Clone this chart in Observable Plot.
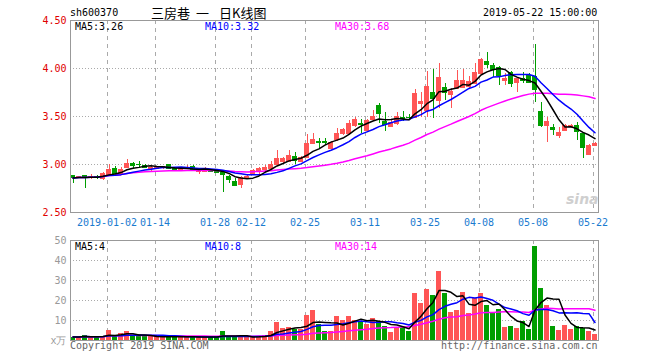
<!DOCTYPE html>
<html><head><meta charset="utf-8">
<script src="https://cdn.jsdelivr.net/npm/d3@7"></script>
<script src="https://cdn.jsdelivr.net/npm/@observablehq/plot@0.6"></script>
<style>
html,body{margin:0;padding:0;background:#fff;}
#wrap{position:relative;width:660px;height:360px;overflow:hidden;font-family:"DejaVu Sans Mono",monospace;font-size:10px;}
.t{position:absolute;white-space:nowrap;line-height:1;}
.cjk{font-family:'Noto Sans CJK SC';font-size:13px;color:#000;top:6px;}
#price,#vol{position:absolute;left:0;}
#price{top:0px} #vol{top:232px}
#wrap svg rect, #wrap svg line{shape-rendering:crispEdges;}
</style></head><body>
<div id="wrap">
 <div id="price"></div><div id="vol"></div>
 <div class="t" style="left:70px;top:8px;color:#000">sh600370</div>
 <div class="t cjk" style="left:151px">三房巷</div>
 <div class="t cjk" style="left:196px">一</div>
 <div class="t cjk" style="left:219px">日K线图</div>
 <div class="t" style="left:483px;top:8px;color:#000">2019-05-22 15:00:00</div>
 <div class="t" id="pm5" style="left:75px;top:22px;color:#000"></div>
 <div class="t" id="pm10" style="left:205px;top:22px;color:#0000ff"></div>
 <div class="t" id="pm30" style="left:335px;top:22px;color:#ff00ff"></div>
 <div class="t" id="vm5" style="left:75px;top:242px;color:#000"></div>
 <div class="t" id="vm10" style="left:205px;top:242px;color:#0000ff"></div>
 <div class="t" id="vm30" style="left:335px;top:242px;color:#ff00ff"></div>
 <div class="t" style="left:70px;top:341px;color:#666">Copyright 2019 SINA.COM</div>
 <div class="t" style="left:441px;top:341px;color:#666">http://finance.sina.com.cn</div>
 <div class="t" style="left:566px;top:192px;font-family:'DejaVu Sans';font-weight:bold;font-style:italic;font-size:14px;color:#cfcfcf">sina</div>
</div>
<script>
const dates = ["12-21","12-24","12-25","12-26","12-27","12-28","01-02","01-03","01-04","01-07","01-08","01-09","01-10","01-11","01-14","01-15","01-16","01-17","01-18","01-21","01-22","01-23","01-24","01-25","01-28","01-29","01-30","01-31","02-01","02-11","02-12","02-13","02-14","02-15","02-18","02-19","02-20","02-21","02-22","02-25","02-26","02-27","02-28","03-01","03-04","03-05","03-06","03-07","03-08","03-11","03-12","03-13","03-14","03-15","03-18","03-19","03-20","03-21","03-22","03-25","03-26","03-27","03-28","03-29","04-01","04-02","04-03","04-04","04-08","04-09","04-10","04-11","04-12","04-15","04-16","04-17","04-18","05-08","05-09","05-10","05-13","05-14","05-15","05-16","05-17","05-20","05-21","05-22"];
const open = [2.885,2.86,2.89,2.86,2.88,2.855,2.90,2.96,2.91,2.97,3.015,3.00,2.985,2.955,2.96,2.965,2.995,2.965,2.945,2.955,2.98,2.925,2.93,2.94,2.93,2.92,2.875,2.82,2.79,2.855,2.91,2.925,2.945,2.96,3.00,3.035,3.035,3.083,3.03,3.076,3.22,3.24,3.24,3.17,3.257,3.326,3.32,3.406,3.43,3.355,3.47,3.615,3.45,3.40,3.425,3.49,3.49,3.49,3.64,3.56,3.753,3.667,3.805,3.726,3.79,3.805,3.81,3.847,3.945,4.073,4.03,4.01,3.875,3.96,3.857,3.90,3.927,3.917,3.552,3.406,3.39,3.30,3.354,3.40,3.41,3.32,3.104,3.198];
const high = [2.89,2.88,2.89,2.90,2.89,2.92,3.00,2.98,2.97,3.05,3.02,3.03,2.995,2.98,2.98,2.98,3.00,2.97,2.965,2.99,2.985,2.95,2.965,2.945,2.935,2.93,2.89,2.85,2.87,2.89,2.95,2.97,2.99,3.03,3.15,3.07,3.15,3.128,3.08,3.31,3.32,3.27,3.27,3.235,3.372,3.38,3.458,3.49,3.47,3.47,3.56,3.635,3.545,3.47,3.545,3.55,3.52,3.78,3.75,3.97,3.99,4.05,3.84,3.79,3.98,3.99,3.92,4.05,4.10,4.17,4.05,4.02,3.945,3.97,3.91,3.96,3.95,4.25,3.65,3.49,3.42,3.39,3.42,3.42,3.44,3.33,3.21,3.23];
const low = [2.80,2.85,2.75,2.84,2.84,2.83,2.87,2.90,2.90,2.96,2.96,2.965,2.955,2.93,2.95,2.95,2.955,2.925,2.935,2.95,2.93,2.90,2.915,2.915,2.91,2.71,2.80,2.77,2.75,2.84,2.895,2.90,2.93,2.955,2.98,3.01,3.02,3.00,3.02,3.07,3.21,3.16,3.20,3.16,3.24,3.30,3.31,3.39,3.32,3.34,3.45,3.425,3.34,3.39,3.41,3.45,3.47,3.48,3.49,3.49,3.476,3.58,3.667,3.58,3.78,3.79,3.79,3.84,3.93,4.00,3.91,3.82,3.82,3.80,3.753,3.84,3.85,3.65,3.39,3.232,3.30,3.27,3.35,3.38,3.25,3.06,3.09,3.19];
const close = [2.86,2.87,2.86,2.88,2.865,2.91,2.945,2.91,2.95,3.01,2.985,2.995,2.97,2.97,2.975,2.975,2.96,2.935,2.955,2.965,2.945,2.945,2.95,2.925,2.92,2.90,2.84,2.78,2.86,2.875,2.935,2.955,2.97,3.005,3.06,3.06,3.094,3.042,3.07,3.215,3.26,3.23,3.23,3.23,3.32,3.368,3.424,3.466,3.42,3.455,3.50,3.53,3.42,3.44,3.50,3.48,3.485,3.735,3.655,3.81,3.684,3.91,3.753,3.76,3.875,3.875,3.865,3.955,4.09,4.04,3.986,3.93,3.90,3.84,3.893,3.88,3.857,3.778,3.406,3.45,3.36,3.336,3.406,3.41,3.347,3.174,3.198,3.215];
const volume = [1.7,1.7,2.5,1.7,1.7,2.2,5,2,3.3,4.5,2,2,2,2,1.8,1.8,2,2,1.7,1.7,1.7,1.7,1.7,1.7,1.7,4.5,1.7,1.7,2,1.7,1.7,2,2.5,4.5,9.2,5.8,6.3,5.5,5.5,12.5,15,7.8,4.5,4.5,12,10,12,10,9.5,8,11.2,9.7,7,4.2,6.7,6.7,4.7,23.7,18.7,25.5,22.5,34.5,23.7,14.2,15,24.2,13.7,20.8,23.7,17.5,13.7,15.5,6.5,7,6.2,9.7,5.5,47.2,26.2,17.5,7.2,5,7.7,5.5,7.2,6.2,4.5,3];
const tickDates = ["01-02","01-14","01-28","02-12","02-25","03-11","03-25","04-08","05-08","05-22"];
const tickLabels = ["2019-01-02","01-14","01-28","02-12","02-25","03-11","03-25","04-08","05-08","05-22"];
const priceTicks = [2.5,3.0,3.5,4.0,4.5];
const priceGrid = [3.0,3.5,4.0];
const volTicks = [0,10,20,30,40,50];
const volGrid = [10,20,30,40];
const priceMA = ["MA5:3.26","MA10:3.32","MA30:3.68"];
const volMA = ["MA5:4","MA10:8","MA30:14"];

const RED = "#ff5555", GREEN = "#009e00";
const data = dates.map((d, i) => ({i, date: d, open: open[i], high: high[i], low: low[i], close: close[i], volume: volume[i], col: close[i] >= open[i] ? RED : GREEN}));
const tickIdx = tickDates.map(t => dates.indexOf(t));
const labelOf = new Map(tickIdx.map((t, k) => [t, tickLabels[k]]));

const xOpt = {type: "band", domain: data.map(d => d.i), range: [69.5, 597.5], paddingInner: 0.17, paddingOuter: 0.085, round: false, axis: null};
const common = {width: 660, marginLeft: 70, marginRight: 62, color: {type: "identity"},
  style: {fontFamily: "DejaVu Sans Mono, monospace", fontSize: "10px", background: "transparent", overflow: "visible"}};
const grid = {stroke: "#aaa", strokeDasharray: "4,4", dx: -2};

const price = Plot.plot({
  ...common, height: 232, marginTop: 20, marginBottom: 20,
  x: xOpt, y: {domain: [2.5, 4.5], axis: null},
  marks: [
    Plot.ruleX(tickIdx, grid),
    Plot.ruleY(priceGrid, {stroke: "#aaa", strokeDasharray: "1,2"}),
    Plot.ruleX(data, {x: "i", y1: "low", y2: "high", stroke: "col"}),
    Plot.barY(data, {x: "i", y1: "open", y2: "close", fill: "col"}),
    Plot.tickY(data, {x: "i", y: "open", stroke: "col"}),
    Plot.tickY(data, {x: "i", y: "close", stroke: "col"}),
    Plot.lineY(data, Plot.windowY({k: 30, anchor: "end"}, {x: "i", y: "close", stroke: "#ff00ff"})),
    Plot.lineY(data, Plot.windowY({k: 10, anchor: "end"}, {x: "i", y: "close", stroke: "#0000ff"})),
    Plot.lineY(data, Plot.windowY({k: 5, anchor: "end"}, {x: "i", y: "close", stroke: "#000"})),
    Plot.axisY({ticks: priceTicks, tickSize: 0, tickPadding: 4, tickFormat: d => d.toFixed(2), fill: "#e00000", label: null}),
    Plot.axisX({ticks: tickIdx, tickSize: 0, tickPadding: 6, tickFormat: i => labelOf.get(i), fill: "#1a7bcf", dx: -2, label: null}),
    Plot.frame({stroke: "#999"})
  ]
});
document.getElementById("price").append(price);

const vol = Plot.plot({
  ...common, height: 128, marginTop: 8, marginBottom: 20,
  x: xOpt, y: {domain: [0, 50], axis: null},
  marks: [
    Plot.ruleX(tickIdx, grid),
    Plot.ruleY(volGrid, {stroke: "#aaa", strokeDasharray: "1,2"}),
    Plot.barY(data, {x: "i", y: "volume", fill: "col"}),
    Plot.lineY(data, Plot.windowY({k: 30, anchor: "end"}, {x: "i", y: "volume", stroke: "#ff00ff"})),
    Plot.lineY(data, Plot.windowY({k: 10, anchor: "end"}, {x: "i", y: "volume", stroke: "#0000ff"})),
    Plot.lineY(data, Plot.windowY({k: 5, anchor: "end"}, {x: "i", y: "volume", stroke: "#000"})),
    Plot.axisY({ticks: volTicks, tickSize: 0, tickPadding: 4, tickFormat: v => v === 0 ? "x万" : String(v), fill: "#999", label: null}),
    Plot.frame({stroke: "#999"})
  ]
});
document.getElementById("vol").append(vol);

["pm5","pm10","pm30"].forEach((id, k) => document.getElementById(id).textContent = priceMA[k]);
["vm5","vm10","vm30"].forEach((id, k) => document.getElementById(id).textContent = volMA[k]);
</script>
</body></html>
